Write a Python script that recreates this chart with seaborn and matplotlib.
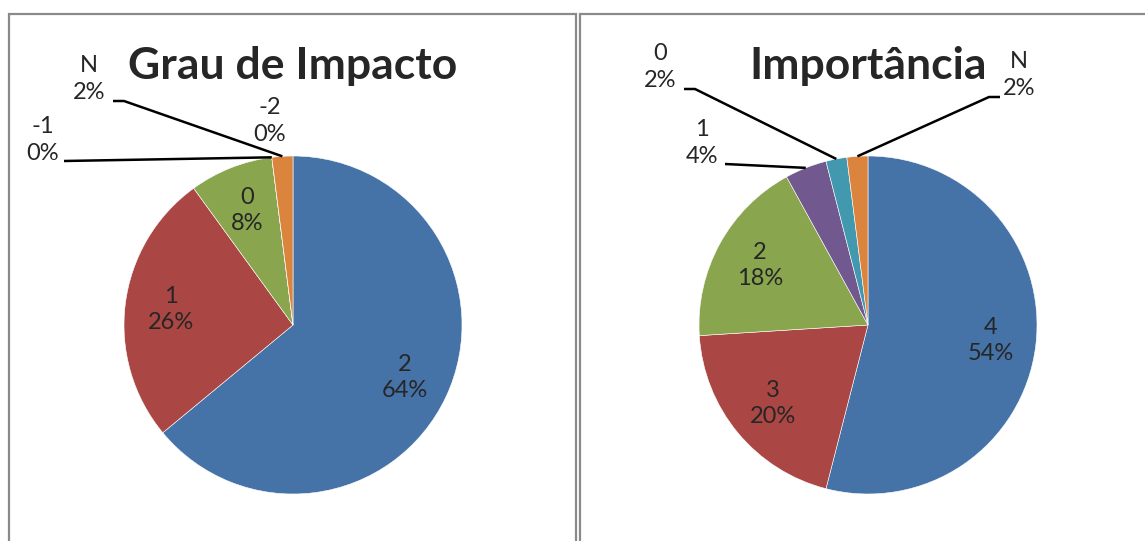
import numpy as np
import matplotlib.pyplot as plt
from matplotlib.patches import Rectangle
import seaborn as sns

# respostas (contagens) por categoria
impacto_cats = ['2', '1', '0', '-1', '-2', 'N']
impacto_vals = [32, 13, 4, 0, 0, 1]

importancia_cats = ['4', '3', '2', '1', '0', 'N']
importancia_vals = [27, 10, 9, 2, 1, 1]

# cores padrao do Excel 2007
excel_colors = sns.color_palette(['#4572A7', '#AA4643', '#89A54E', '#71588F', '#4198AF', '#DB843D'])

sns.set_style('white')
plt.rcParams['font.family'] = ['Lato', 'DejaVu Sans']

W, H = 1145, 541
fig = plt.figure(figsize=(W / 100, H / 100), dpi=100)
ax = fig.add_axes([0, 0, 1, 1])


def py(y):
    # pixel row -> data y
    return H - y


def draw_pie(cx, cy, cats, vals, title, outside):
    total = sum(vals)
    labels = []
    for c, v in zip(cats, vals):
        if c in outside:
            labels.append('')
        else:
            labels.append(f'{c}\n{round(100 * v / total)}%')
    r = 169
    wedges, texts = ax.pie(vals, colors=excel_colors, startangle=90, counterclock=False,
                           center=(cx, py(cy)), radius=r, labels=labels, labeldistance=0.73,
                           textprops=dict(fontsize=17, ha='center', va='center', linespacing=1.3),
                           wedgeprops=dict(edgecolor='white', linewidth=0.4))
    ax.text(cx, py(cy - 259), title, fontsize=32, fontweight='bold', ha='center', va='center')

    # rótulos externos com linhas de chamada
    for i, c in enumerate(cats):
        if c not in outside:
            continue
        tx, ty, path = outside[c]
        ax.text(tx, py(ty), f'{c}\n{round(100 * vals[i] / total)}%', fontsize=17,
                ha='center', va='center', linespacing=1.3)
        if path:
            w = wedges[i]
            ang = np.deg2rad((w.theta1 + w.theta2) / 2)
            ex = cx + r * np.cos(ang)
            ey = py(cy) + r * np.sin(ang)
            xs = [p[0] for p in path] + [ex]
            ys = [py(p[1]) for p in path] + [ey]
            ax.plot(xs, ys, color='black', lw=1.8, solid_capstyle='butt')


draw_pie(293, 325, impacto_cats, impacto_vals, 'Grau de Impacto',
         {'N': (89, 79, [(113, 101), (124, 101)]),
          '-1': (43, 140, [(64, 161)]),
          '-2': (270, 121, None)})

draw_pie(868, 325, importancia_cats, importancia_vals, 'Importância',
         {'0': (660, 67, [(684, 89), (695, 89)]),
          '1': (702, 143, [(725, 164)]),
          'N': (1019, 75, [(1000, 97), (989, 97)])})

# molduras dos dois gráficos
ax.add_patch(Rectangle((8.5, -5), 567, py(14) + 5, fill=False, edgecolor='#8a8a8a', lw=1.6))
ax.add_patch(Rectangle((579.5, -5), 600, py(14) + 5, fill=False, edgecolor='#8a8a8a', lw=1.6))

ax.set_xlim(0, W)
ax.set_ylim(0, H)
ax.set_aspect('equal')
ax.axis('off')

fig.savefig('out.png', dpi=100, facecolor='white')
